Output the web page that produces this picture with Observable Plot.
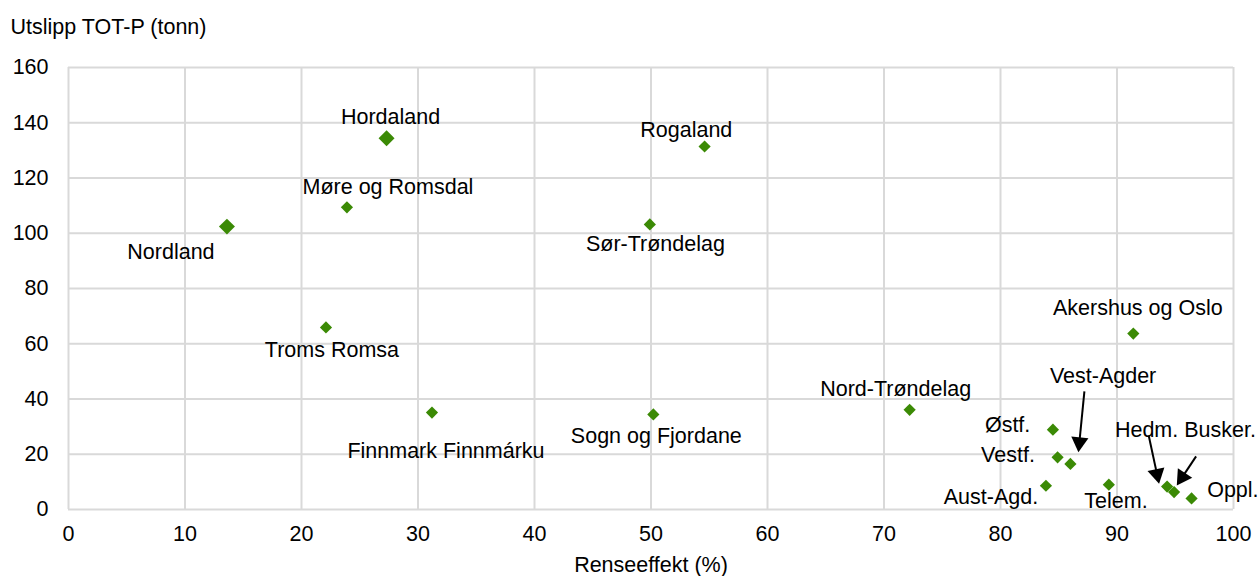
<!DOCTYPE html>
<html><head><meta charset="utf-8">
<script src="https://cdn.jsdelivr.net/npm/d3@7"></script>
<script src="https://cdn.jsdelivr.net/npm/@observablehq/plot@0.6"></script>
<style>html,body{margin:0;padding:0;background:#fff}</style>
</head><body><div id="chart"></div>
<script>
// ---- data ----
const counties = ["Nordland","Hordaland","Møre og Romsdal","Rogaland","Sør-Trøndelag","Troms Romsa","Finnmark Finnmárku","Sogn og Fjordane","Nord-Trøndelag","Akershus og Oslo","Østf.","Vestf.","Vest-Agder","Aust-Agd.","Telem.","Hedm.","Busker.","Oppl."];
const renseeffekt = [13.6, 27.3, 23.9, 54.6, 49.9, 22.1, 31.2, 50.2, 72.2, 91.4, 84.5, 84.9, 86.0, 83.9, 89.3, 94.3, 94.9, 96.4];
const utslipp    = [102.4, 134.4, 109.4, 131.4, 103.2, 65.9, 35.1, 34.4, 36.1, 63.7, 28.9, 18.9, 16.5, 8.6, 9.0, 8.3, 6.3, 4.0];
const pointLabels = ["Nordland","Hordaland","Møre og Romsdal","Rogaland","Sør-Trøndelag","Troms Romsa","Finnmark Finnmárku","Sogn og Fjordane","Nord-Trøndelag","Akershus og Oslo","Østf.","Vestf.","Vest-Agder","Aust-Agd.","Telem.","Hedm. Busker.","","Oppl."];
const xTicks = [0,10,20,30,40,50,60,70,80,90,100];
const yTicks = [0,20,40,60,80,100,120,140,160];
const yTitle = "Utslipp TOT-P (tonn)";
const xTitle = "Renseeffekt (%)";

// ---- layout / style ----
const W = 1258, H = 576, ML = 68, MR = 25, MT = 67, MB = 67;
const kx = (W - ML - MR) / 100, ky = (H - MT - MB) / 160;
const green = "#3b8a05";
const font = "Liberation Sans, Arial, sans-serif";
const FS = 21.5;
// label offsets in pixels (dx, dy) from the point
const labelOffset = {
  "Nordland":[-56,25], "Hordaland":[4,-21], "Møre og Romsdal":[41,-20.4], "Rogaland":[-18.3,-16.8],
  "Sør-Trøndelag":[5.6,19.7], "Troms Romsa":[6,23], "Finnmark Finnmárku":[14,39], "Sogn og Fjordane":[3,22],
  "Nord-Trøndelag":[-14,-21], "Akershus og Oslo":[4.5,-25], "Østf.":[-45.3,-4.5], "Vestf.":[-49.6,-1.9],
  "Vest-Agder":[32.7,-87.5], "Aust-Agd.":[-55,11.5], "Telem.":[7.1,16.8], "Hedm.":[18.3,-56.8],
  "Busker.":[0,0], "Oppl.":[41.3,-8.8]
};
const bigMarker = new Set(["Nordland","Hordaland"]);
// arrows: start and tip in pixel offsets from the point
const arrowDefs = [
  {name:"Vest-Agder", from:[14,-72.6], to:[8,-11.6]},
  {name:"Hedm.", from:[-18.4,-51], to:[-8,-2.7]},
  {name:"Busker.", from:[22,-35.7], to:[2.7,-6.7]}
];

const data = counties.map((n,i) => ({name:n, x:renseeffekt[i], y:utslipp[i], label:pointLabels[i]}));
const byName = Object.fromEntries(data.map(d => [d.name, d]));
const labelData = data.filter(d => d.label).map(d => {
  const [dx, dy] = labelOffset[d.name];
  return {label:d.label, x:d.x + dx/kx, y:d.y - dy/ky};
});

const headR = 6.4;
const headTipDist = 2 * Math.sqrt((Math.PI*headR*headR) / (Math.sqrt(3)*3));
const arrows = arrowDefs.map(a => {
  const p = byName[a.name];
  const sx = a.from[0], sy = a.from[1], tx = a.to[0], ty = a.to[1];
  const L = Math.hypot(tx - sx, ty - sy);
  const ux = (tx - sx)/L, uy = (ty - sy)/L;
  const cx = tx - ux*headTipDist, cy = ty - uy*headTipDist;
  return {
    x1: p.x + sx/kx, y1: p.y - sy/ky,
    x2: p.x + cx/kx, y2: p.y - cy/ky,
    hx: p.x + cx/kx, hy: p.y - cy/ky,
    rot: Math.atan2(ux, -uy) * 180 / Math.PI
  };
});

const chart = Plot.plot({
  width: W, height: H,
  marginLeft: ML, marginRight: MR, marginTop: MT, marginBottom: MB,
  style: {fontFamily: font, fontSize: FS + "px", color: "#000", background: "#fff", overflow: "visible"},
  x: {domain: [0, 100], label: null},
  y: {domain: [0, 160], label: null},
  marks: [
    Plot.gridX(xTicks, {stroke: "#d9d9d9", strokeOpacity: 1, strokeWidth: 2}),
    Plot.gridY(yTicks, {stroke: "#d9d9d9", strokeOpacity: 1, strokeWidth: 2}),
    Plot.axisX({ticks: xTicks, tickSize: 0, tickPadding: 16, label: null, fontSize: FS}),
    Plot.axisY({ticks: yTicks, tickSize: 0, tickPadding: 20, label: null, fontSize: FS}),
    Plot.dot(data.filter(d => !bigMarker.has(d.name)), {x: "x", y: "y", symbol: "diamond2", fill: green, stroke: "none", r: 5.5}),
    Plot.dot(data.filter(d => bigMarker.has(d.name)), {x: "x", y: "y", symbol: "diamond2", fill: green, stroke: "none", r: 7.2}),
    Plot.link(arrows, {x1: "x1", y1: "y1", x2: "x2", y2: "y2", stroke: "#000", strokeWidth: 2}),
    Plot.dot(arrows, {x: "hx", y: "hy", symbol: "triangle", fill: "#000", stroke: "none", r: headR, rotate: "rot"}),
    Plot.text(labelData, {x: "x", y: "y", text: "label", fill: "#000", fontSize: FS, textAnchor: "middle", lineAnchor: "middle"}),
    Plot.text([yTitle], {frameAnchor: "top-left", dx: -58, dy: -34, textAnchor: "start", lineAnchor: "bottom", fontSize: FS, fill: "#000"}),
    Plot.text([xTitle], {frameAnchor: "bottom", dy: 62, textAnchor: "middle", lineAnchor: "bottom", fontSize: FS, fill: "#000"})
  ]
});
document.getElementById("chart").appendChild(chart);
</script>
</body></html>
